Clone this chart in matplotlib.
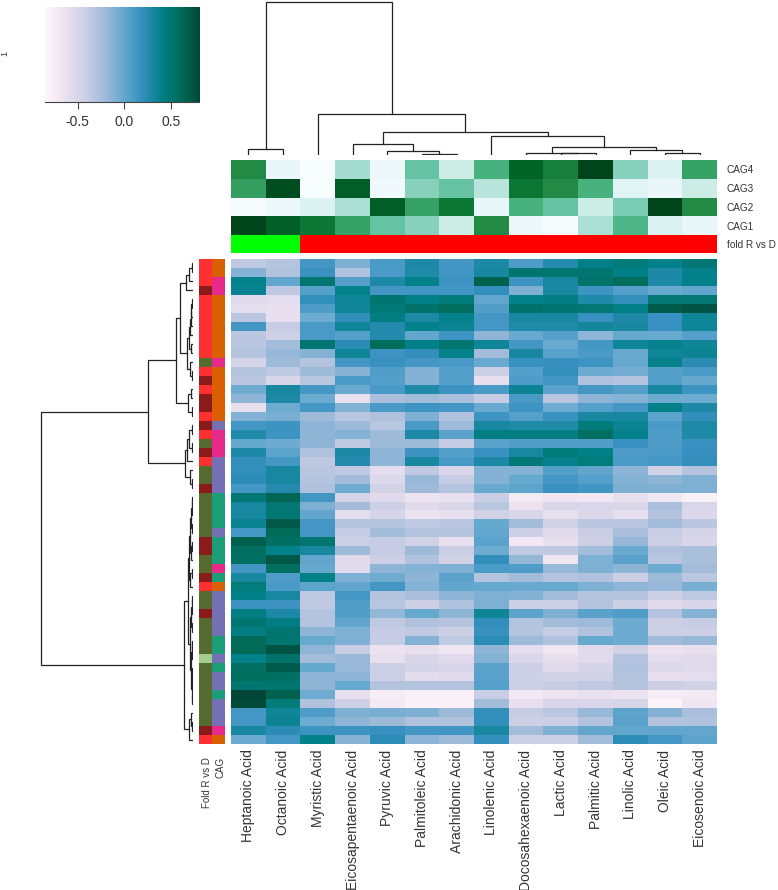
import numpy as np
import matplotlib
matplotlib.use('Agg')
import matplotlib.pyplot as plt
from matplotlib.colors import ListedColormap

plt.rcParams['font.family'] = ['Liberation Sans', 'DejaVu Sans']

W, H = 778, 890

acids = ['Heptanoic Acid', 'Octanoic Acid', 'Myristic Acid', 'Eicosapentaenoic Acid',
         'Pyruvic Acid', 'Palmitoleic Acid', 'Arachidonic Acid', 'Linolenic Acid',
         'Docosahexaenoic Acid', 'Lactic Acid', 'Palmitic Acid', 'Linolic Acid',
         'Oleic Acid', 'Eicosenoic Acid']
cag_labels = ['CAG4', 'CAG3', 'CAG2', 'CAG1']

heat_values = [
    [-.35, -.30, .12, -.10, .10, .28, .12, .28, .08, .25, .40, .45, .38, .48],
    [-.12, -.28, .17, -.28, .10, .27, .13, .30, .50, .50, .50, .40, .28, .38],
    [.38, .00, .50, .05, .28, .38, .15, .65, .15, .30, .52, .58, .28, .38],
    [.36, -.35, .05, .38, .12, .13, .13, .20, -.10, .30, .15, .05, -.03, .00],
    [-.55, -.58, .20, .33, .50, .40, .45, .00, .38, .42, .27, .20, .48, .48],
    [-.58, -.62, .08, .33, .47, .52, .58, .06, .52, .50, .48, .40, .68, .72],
    [-.33, -.60, -.05, .20, .42, .28, .38, .12, .30, .30, .17, .28, .17, .33],
    [.12, -.38, .10, .33, .25, .38, .35, .12, .27, .27, .32, .30, .18, .33],
    [-.33, -.43, .10, .05, .25, .00, .15, -.15, -.03, .05, -.15, -.02, -.03, .05],
    [-.33, -.22, .50, .22, .58, .40, .50, .33, .12, -.03, .12, .33, .37, .33],
    [-.30, -.18, -.12, .33, .15, .20, .38, -.22, .30, .03, .10, -.03, .33, .35],
    [-.47, -.20, -.30, .12, .17, .12, .10, -.03, .17, .18, .15, -.02, .38, .23],
    [-.30, -.35, -.20, -.13, .07, -.12, .05, -.42, .05, .20, -.05, -.07, .05, .10],
    [-.33, -.50, -.32, .10, .05, -.12, .05, -.60, .08, .13, -.28, -.30, .05, -.02],
    [-.05, .30, .12, -.03, .10, .27, .15, .10, .35, .03, .12, .05, .30, .15],
    [-.15, .28, -.04, -.62, -.25, -.22, -.25, -.38, .10, -.32, -.15, -.12, -.05, -.05],
    [-.62, -.05, .12, -.12, .10, .15, .12, -.03, .15, -.05, .05, .12, .40, .28],
    [-.12, -.08, -.20, -.32, -.27, -.10, -.28, .15, .05, .17, .30, .30, .02, .20],
    [.12, .15, -.15, -.20, -.32, .10, -.20, .30, .27, .27, .45, .35, .10, .28],
    [.27, .15, -.15, -.12, -.20, .28, .03, .42, .42, .42, .55, .38, .08, .27],
    [-.02, -.05, -.15, -.35, -.20, -.20, -.38, .03, .07, .07, .07, .17, .08, .17],
    [.28, .02, -.28, .28, -.15, .15, .05, .17, .30, .45, .40, .08, .10, .18],
    [.20, .12, -.35, .25, -.15, .30, .10, .28, .47, .37, .45, .10, .12, .20],
    [.20, .30, -.32, -.35, -.58, -.35, -.50, -.12, -.12, .07, .00, -.15, -.45, -.30],
    [.22, .30, -.30, -.22, -.52, -.18, -.38, -.12, -.02, .12, .05, -.12, -.15, -.10],
    [.12, .25, -.27, -.05, -.45, -.20, -.30, -.03, .02, .18, .13, -.10, -.10, -.10],
    [.48, .62, .13, -.48, -.55, -.65, -.60, -.40, -.72, -.68, -.70, -.62, -.70, -.78],
    [.30, .48, -.10, -.22, -.42, -.55, -.50, -.32, -.65, -.50, -.50, -.50, -.25, -.50],
    [.30, .48, .00, -.58, -.47, -.65, -.60, -.45, -.50, -.60, -.52, -.60, -.30, -.52],
    [.35, .70, .12, -.30, -.30, -.35, -.32, -.02, -.22, -.45, -.33, -.33, -.22, -.33],
    [.12, .60, .12, -.38, -.22, -.30, -.30, .00, -.42, -.55, -.40, -.25, -.40, -.48],
    [.65, .55, .50, -.42, -.38, -.45, -.62, .03, -.70, -.60, -.42, -.18, -.42, -.50],
    [.55, .38, .30, -.20, -.38, -.20, -.40, -.05, -.35, -.35, -.22, -.03, -.28, -.25],
    [.55, .70, .00, -.55, -.42, -.28, -.45, .20, -.17, -.68, -.10, .03, -.32, -.25],
    [.12, .55, -.02, -.55, -.15, -.12, -.10, .10, .08, -.18, -.10, -.15, -.05, -.22],
    [.30, .08, .40, -.10, -.05, -.15, .03, -.30, -.22, -.30, -.28, -.42, -.20, -.33],
    [.45, .10, .02, .00, .12, -.12, .00, -.02, -.03, -.03, -.10, -.15, -.18, -.08],
    [.40, .30, -.35, .12, -.30, -.25, -.15, -.10, -.12, -.22, -.30, -.30, -.42, -.35],
    [.15, .15, -.35, .07, -.32, -.42, -.28, -.10, -.42, -.42, -.30, -.42, -.55, -.50],
    [.42, .28, -.30, .07, -.17, -.02, -.15, .33, .02, -.10, .03, .08, -.30, -.12],
    [.50, .42, -.30, .00, -.35, -.28, -.30, .20, -.30, -.22, -.20, -.05, -.42, -.38],
    [.42, .50, -.15, -.10, -.38, -.35, -.42, .17, -.30, -.38, -.28, -.05, -.42, -.42],
    [.60, .50, -.03, -.10, -.38, -.12, -.35, .22, -.20, -.28, -.02, -.05, -.22, -.18],
    [.60, .72, -.15, -.40, -.65, -.60, -.68, -.15, -.58, -.68, -.55, -.45, -.65, -.62],
    [.38, .52, -.22, -.18, -.60, -.50, -.55, -.12, -.50, -.60, -.55, -.30, -.58, -.55],
    [.55, .68, -.02, -.18, -.42, -.48, -.50, .03, -.42, -.55, -.48, -.28, -.52, -.55],
    [.58, .55, -.15, -.15, -.42, -.57, -.55, .03, -.42, -.45, -.45, -.30, -.60, -.58],
    [.50, .50, -.15, -.02, -.30, -.30, -.30, .05, -.42, -.38, -.35, -.30, -.42, -.45],
    [.80, .65, -.05, -.62, -.75, -.78, -.78, -.40, -.70, -.65, -.62, -.65, -.75, -.72],
    [.78, .45, -.28, -.42, -.72, -.80, -.78, -.22, -.60, -.50, -.50, -.48, -.82, -.68],
    [.12, .33, .08, -.10, -.08, -.10, -.20, .20, -.38, -.33, -.18, .02, -.12, -.25],
    [.12, .35, -.05, -.15, -.20, -.28, -.28, .20, -.42, -.42, -.30, .03, -.30, -.28],
    [.30, .22, .15, .15, .18, .12, .13, .30, -.22, -.10, .00, .00, .00, .00],
    [-.05, .12, .38, -.13, .22, -.15, -.20, .20, -.42, -.42, -.22, .22, .12, .02],
]

cag_values = [
    [.75, .10, .00, .35, .07, .50, .25, .60, .90, .80, 1.0, .42, .17, .67],
    [.68, .97, .00, .92, .05, .42, .50, .30, .83, .75, .60, .15, .10, .25],
    [.01, .07, .17, .33, .92, .67, .83, .09, .60, .50, .25, .45, 1.0, .75],
    [1.0, .92, .83, .67, .50, .42, .25, .75, .07, .01, .33, .58, .17, .10],
]
fold_top = [1, 1] + [0] * 12

fold_groups = list('rrr' 'd' 'rrrrrrr' 'o' 'r' 'd' 'r' 'dd' 'r' 'd' 'r' 'o' 'd' 'r' 'oo' 'd'
                   'ooooo' 'dd' 'oo' 'd' 'r' 'oo' 'd' 'oooo' 'l' 'ooooooo' 'd' 'r')
cag_groups = list('oo' 'pp' 'ooooooo' 'p' 'oooooo' 'v' 'ppp' 'vvvv' 'tttt' 'v' 'ttt' 'p'
                  't' 'o' 'vvvvv' 'tt' 'v' 't' 'vv' 't' 'vvv' 'p' 'o')

# dendrograms, in leaf order: (start, split, end, height)
col_merges = [(0, 2, 14, 153), (0, 1, 2, 6), (2, 3, 14, 41), (3, 7, 14, 22.7), (3, 4, 7, 10.7),
              (4, 5, 7, 3.3), (5, 6, 7, 1), (7, 8, 14, 18.7), (8, 11, 14, 7.3), (8, 9, 11, 2),
              (9, 10, 11, 1.8), (11, 12, 14, 5), (12, 13, 14, 1.3)]
row_merges = [(0, 26, 54, 152), (0, 18, 26, 45), (0, 14, 18, 17), (0, 4, 14, 13), (0, 3, 4, 7),
              (0, 2, 3, 4), (0, 1, 2, 1.5), (4, 11, 14, 6), (4, 9, 11, 4), (4, 8, 9, 3),
              (4, 7, 8, 2.5), (4, 6, 7, 2), (4, 5, 6, 1.5), (9, 10, 11, 2), (11, 12, 14, 3),
              (12, 13, 14, 1), (14, 16, 18, 5), (14, 15, 16, 2), (16, 17, 18, 1.5),
              (18, 23, 26, 8), (18, 22, 23, 6), (18, 20, 22, 4), (18, 19, 20, 1.5),
              (20, 21, 22, 1.5), (23, 24, 26, 3), (24, 25, 26, 1),
              (26, 50, 54, 9), (50, 53, 54, 4), (50, 51, 53, 2), (51, 52, 53, 1),
              (26, 37, 50, 5.5), (26, 34, 37, 4), (26, 31, 34, 3.5), (26, 29, 31, 2),
              (26, 28, 29, 1), (26, 27, 28, .6), (29, 30, 31, 1), (31, 33, 34, 2),
              (31, 32, 33, 1), (34, 36, 37, 3), (34, 35, 36, 1.5), (37, 42, 50, 3),
              (37, 40, 42, 2), (37, 39, 40, 1.5), (37, 38, 39, 1), (40, 41, 42, 1),
              (42, 45, 50, 2), (42, 44, 45, 1.5), (42, 43, 44, 1), (45, 48, 50, 1.5),
              (45, 47, 48, 1), (45, 46, 47, .6), (48, 49, 50, 1)]

heat_values = np.array(heat_values)
cag_values = np.array(cag_values)
n_rows, n_cols = heat_values.shape


def px_axes(fig, x0, y0, x1, y1):
    # box given in image pixels, y going down
    ax = fig.add_axes([x0 / W, 1 - y1 / H, (x1 - x0) / W, (y1 - y0) / H])
    ax.set_xticks([])
    ax.set_yticks([])
    for s in ax.spines.values():
        s.set_visible(False)
    return ax


def tree_segments(merges):
    # returns (pos, height) polylines for every merge, children first
    nodes = {}
    lines = []
    for start, split, end, h in sorted(merges, key=lambda m: m[2] - m[0]):
        left = nodes.get((start, split), (start + .5, 0))
        right = nodes.get((split, end), (split + .5, 0))
        lines.append(([left[0], left[0], right[0], right[0]], [left[1], h, h, right[1]]))
        nodes[(start, end)] = ((left[0] + right[0]) / 2, h)
    return lines


fig = plt.figure(figsize=(W / 100, H / 100), dpi=100)

HX0, HX1, HY0, HY1 = 231, 717, 259, 744

# main heatmap
ax = px_axes(fig, HX0, HY0, HX1, HY1)
ax.pcolormesh(heat_values, cmap='PuBuGn', vmin=-.85, vmax=.8)
ax.set_ylim(n_rows, 0)
ax.set_xticks(np.arange(n_cols) + .5)
ax.set_xticklabels(acids, rotation=90, fontsize=10, color='#333333')
ax.tick_params(axis='x', length=0, pad=4)

# CAG annotation rows
ax = px_axes(fig, HX0, 160, HX1, 235)
ax.pcolormesh(cag_values, cmap='BuGn', vmin=0, vmax=1)
ax.set_ylim(4, 0)
ax.yaxis.tick_right()
ax.set_yticks(np.arange(4) + .5)
ax.set_yticklabels(cag_labels, fontsize=7.2, color='#333333')
ax.tick_params(axis='y', length=0, pad=7)

# fold bar above the heatmap
ax = px_axes(fig, HX0, 235, HX1, 253)
ax.pcolormesh(np.array([fold_top]), cmap=ListedColormap(['#ff0000', '#00ff00']), vmin=0, vmax=1)
ax.yaxis.tick_right()
ax.set_yticks([.5])
ax.set_yticklabels(['fold R vs D'], fontsize=7.2, color='#333333')
ax.tick_params(axis='y', length=0, pad=7)

# row side colours
fold_keys = ['r', 'd', 'o', 'l']
cag_keys = ['o', 'p', 'v', 't']
fold_idx = np.array([[fold_keys.index(g)] for g in fold_groups])
cag_idx = np.array([[cag_keys.index(g)] for g in cag_groups])

ax = px_axes(fig, 199, HY0, 212, HY1)
ax.pcolormesh(fold_idx, cmap=ListedColormap(['#ff3030', '#8b1a1a', '#556b2f', '#a2cd8a']), vmin=0, vmax=3)
ax.set_ylim(n_rows, 0)

ax = px_axes(fig, 212, HY0, 225, HY1)
ax.pcolormesh(cag_idx, cmap=ListedColormap(['#d95f02', '#e7298a', '#7570b3', '#1b9e77']), vmin=0, vmax=3)
ax.set_ylim(n_rows, 0)

for label, lx in [('Fold R vs D', 207), ('CAG', 220)]:
    fig.text(lx / W, 1 - 757 / H, label, rotation=90, fontsize=7, color='#333333', ha='center', va='top')

# column dendrogram
ax = px_axes(fig, HX0, 0, HX1, 154.5)
for xs, ys in tree_segments(col_merges):
    ax.plot(xs, ys, color='#222222', lw=.9, solid_joinstyle='miter')
ax.set_xlim(0, n_cols)
ax.set_ylim(0, 154.5)

# row dendrogram
ax = px_axes(fig, 33, HY0, 193, HY1)
for ys, xs in tree_segments(row_merges):
    ax.plot(xs, ys, color='#222222', lw=.9, solid_joinstyle='miter')
ax.set_xlim(160, 0)
ax.set_ylim(n_rows, 0)

# colour key
ax = px_axes(fig, 45, 7, 199, 102)
key_values = np.linspace(-.85, .8, 256).reshape(1, -1)
ax.imshow(key_values, cmap='PuBuGn', aspect='auto', extent=[-.85, .8, 0, 1], vmin=-.85, vmax=.8)
ax.set_xticks([-.5, 0, .5])
ax.set_xticklabels(['-0.5', '0.0', '0.5'], fontsize=10, color='#333333')
ax.spines['bottom'].set_visible(True)
ax.spines['bottom'].set_color('#444444')
ax.tick_params(axis='x', length=5, width=.8, color='#444444', pad=4)

fig.text(5 / W, 1 - 54 / H, '1', rotation=90, fontsize=6.5, color='#333333', ha='center', va='center')

fig.savefig('out.png', dpi=100)
